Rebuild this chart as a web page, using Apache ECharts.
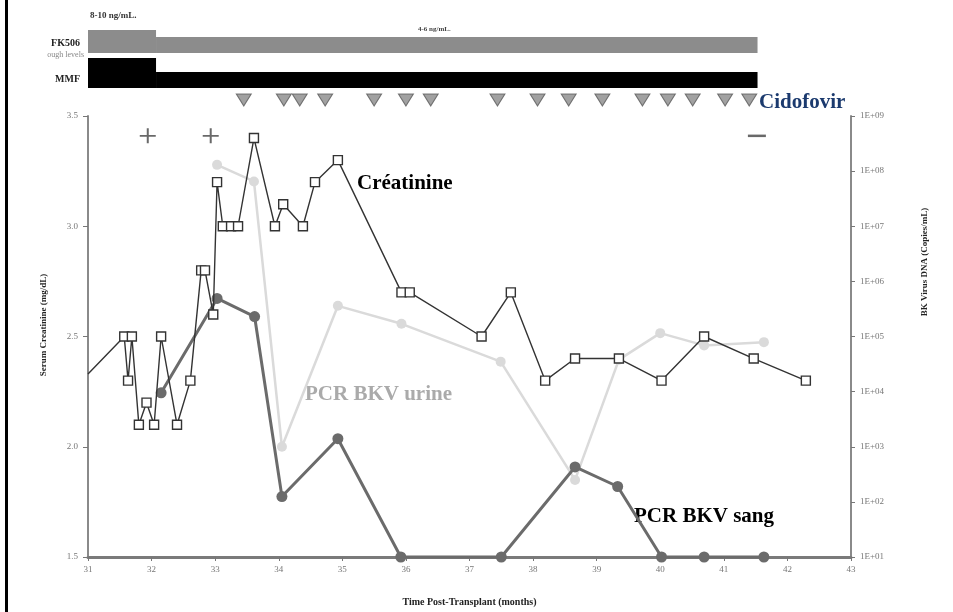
<!DOCTYPE html>
<html>
<head>
<meta charset="utf-8">
<script src="https://cdn.jsdelivr.net/npm/echarts@6/dist/echarts.min.js"></script>
<style>
html,body{margin:0;padding:0;background:#fff;}
#chart{width:953px;height:612px;}
</style>
</head>
<body>
<div id="chart"></div>
<script>
// ---- Data ----
// Serum creatinine (mg/dL) vs months post-transplant
const creatMonths = [31, 31.57, 31.63, 31.69, 31.80, 31.92, 32.04, 32.15, 32.40, 32.61, 32.78, 32.84, 32.97, 33.03, 33.12, 33.25, 33.36, 33.61, 33.94, 34.07, 34.38, 34.57, 34.93, 35.93, 36.06, 37.19, 37.65, 38.19, 38.66, 39.35, 40.02, 40.69, 41.47, 42.29];
const creatValues = [2.33, 2.5, 2.3, 2.5, 2.1, 2.2, 2.1, 2.5, 2.1, 2.3, 2.8, 2.8, 2.6, 3.2, 3.0, 3.0, 3.0, 3.4, 3.0, 3.1, 3.0, 3.2, 3.3, 2.7, 2.7, 2.5, 2.7, 2.3, 2.4, 2.4, 2.3, 2.5, 2.4, 2.3];
// BK virus DNA in urine (copies/mL)
const urineMonths = [33.03, 33.61, 34.05, 34.93, 35.93, 37.49, 38.66, 39.35, 40.00, 40.69, 41.63];
const urineCopies = [1.3e8, 6.5e7, 1000, 3.6e5, 1.7e5, 3.5e4, 250, 3.8e4, 1.15e5, 6.9e4, 7.9e4];
// BK virus DNA in blood (copies/mL)
const sangMonths = [32.15, 33.03, 33.62, 34.05, 34.93, 35.92, 37.50, 38.66, 39.33, 40.02, 40.69, 41.63];
const sangCopies = [9500, 4.9e5, 2.3e5, 125, 1400, 10, 10, 430, 190, 10, 10, 10];
// Cidofovir doses (months)
const cidofovirMonths = [33.45, 34.08, 34.33, 34.73, 35.50, 36.00, 36.39, 37.44, 38.07, 38.56, 39.09, 39.72, 40.12, 40.51, 41.02, 41.40];
// Biopsy results: + positive, - negative (months)
const plusMonths = [31.94, 32.93];
const minusMonths = [41.52];
const biopsyLevel = 3.41;
// Immunosuppression regimen: start, dose reduction, end (months)
const regimenMonths = [31, 32.07, 41.53];
const fk506Trough = ['8-10 ng/mL.', '4-6 ng/mL.'];
// Axis tick labels
const xTicks = [31, 32, 33, 34, 35, 36, 37, 38, 39, 40, 41, 42, 43];
const leftTicks = [1.5, 2.0, 2.5, 3.0, 3.5];
const rightTicks = ['1E+01', '1E+02', '1E+03', '1E+04', '1E+05', '1E+06', '1E+07', '1E+08', '1E+09'];

// ---- Build ----
const SERIF = '"Liberation Serif", "DejaVu Serif", serif';
const zip = (a, b) => a.map((v, i) => [v, b[i]]);

const creatData = creatMonths.map((m, i) => i === 0
  ? { value: [m, creatValues[i]], symbol: 'none' }
  : [m, creatValues[i]]);

// regimen bars: [start, end, highDose(1/0), row(0 = FK506, 1 = MMF)]
const regimenData = [];
for (let row = 0; row < 2; row++) {
  for (let p = 0; p < regimenMonths.length - 1; p++) {
    regimenData.push([regimenMonths[p], regimenMonths[p + 1], p === 0 ? 1 : 0, row]);
  }
}

const chart = echarts.init(document.getElementById('chart'), null, { renderer: 'canvas' });

const option = {
  backgroundColor: '#ffffff',
  animation: false,
  grid: [
    { left: 88, right: 102, top: 116, bottom: 49 },
    { left: 88, right: 102, top: 10, height: 100 }
  ],
  xAxis: [
    {
      type: 'value', gridIndex: 0, min: 31, max: 43, interval: 1,
      name: 'Time Post-Transplant (months)', nameLocation: 'middle', nameGap: 40,
      nameTextStyle: { fontFamily: SERIF, fontWeight: 'bold', fontSize: 10, color: '#222' },
      axisLine: { lineStyle: { color: '#7a7a7a', width: 3 } },
      axisTick: { show: true, length: 4, lineStyle: { color: '#777', width: 1 } },
      axisLabel: { fontFamily: SERIF, fontSize: 9, color: '#777', margin: 8,
        formatter: v => xTicks.includes(v) ? String(v) : '' },
      splitLine: { show: false }
    },
    { type: 'value', gridIndex: 1, min: 31, max: 43, show: false }
  ],
  yAxis: [
    {
      type: 'value', gridIndex: 0, position: 'left', min: 1.5, max: 3.5, interval: 0.5,
      axisLine: { show: true, lineStyle: { color: '#8a8a8a', width: 2 } },
      axisTick: { show: true, length: 5, lineStyle: { color: '#777', width: 1 } },
      axisLabel: { fontFamily: SERIF, fontSize: 9, color: '#777', margin: 10,
        formatter: v => leftTicks.includes(v) ? v.toFixed(1) : '' },
      splitLine: { show: false }
    },
    {
      type: 'log', gridIndex: 0, position: 'right', logBase: 10, min: 10, max: 1e9,
      interval: 1,
      axisLine: { show: true, lineStyle: { color: '#8a8a8a', width: 2 } },
      axisTick: { show: true, length: 4, lineStyle: { color: '#777', width: 1 } },
      axisLabel: { fontFamily: SERIF, fontSize: 9, color: '#777', margin: 9,
        formatter: v => {
          const e = Math.round(Math.log10(v));
          return rightTicks[e - 1] || '';
        } },
      splitLine: { show: false }
    },
    { type: 'value', gridIndex: 1, min: 0, max: 100, show: false }
  ],
  graphic: [
    { type: 'rect', shape: { x: 5, y: 0, width: 3, height: 612 }, style: { fill: '#000' }, z: 100 },
    { type: 'text', x: 44, y: 325, rotation: Math.PI / 2,
      style: { text: 'Serum Creatinine (mg/dL)', font: 'bold 9px ' + SERIF, fill: '#222', align: 'center', verticalAlign: 'middle' } },
    { type: 'text', x: 925, y: 262, rotation: Math.PI / 2,
      style: { text: 'BK Virus DNA (Copies/mL)', font: 'bold 9px ' + SERIF, fill: '#222', align: 'center', verticalAlign: 'middle' } },
    { type: 'text', x: 80, y: 43,
      style: { text: 'FK506', font: 'bold 10px ' + SERIF, fill: '#222', align: 'right', verticalAlign: 'middle' } },
    { type: 'text', x: 84, y: 55,
      style: { text: 'ough levels', font: '8px ' + SERIF, fill: '#888', align: 'right', verticalAlign: 'middle' } },
    { type: 'text', x: 80, y: 79,
      style: { text: 'MMF', font: 'bold 10px ' + SERIF, fill: '#222', align: 'right', verticalAlign: 'middle' } },
    { type: 'text', x: 90, y: 16,
      style: { text: fk506Trough[0], font: 'bold 9px ' + SERIF, fill: '#333', align: 'left', verticalAlign: 'middle' } },
    { type: 'text', x: 418, y: 29,
      style: { text: fk506Trough[1], font: 'bold 7px ' + SERIF, fill: '#444', align: 'left', verticalAlign: 'middle' } },
    { type: 'text', x: 759, y: 103,
      style: { text: 'Cidofovir', font: 'bold 21px ' + SERIF, fill: '#1b3a6e', align: 'left', verticalAlign: 'middle' } },
    { type: 'text', x: 357, y: 184,
      style: { text: 'Créatinine', font: 'bold 21px ' + SERIF, fill: '#000', align: 'left', verticalAlign: 'middle' } },
    { type: 'text', x: 305, y: 395,
      style: { text: 'PCR BKV urine', font: 'bold 21px ' + SERIF, fill: '#aaaaaa', align: 'left', verticalAlign: 'middle' } },
    { type: 'text', x: 634, y: 517,
      style: { text: 'PCR BKV sang', font: 'bold 21px ' + SERIF, fill: '#000', align: 'left', verticalAlign: 'middle' } }
  ],
  series: [
    {
      name: 'Regimen', type: 'custom', xAxisIndex: 1, yAxisIndex: 2,
      renderItem: (params, api) => {
        const x0 = api.value(0), x1 = api.value(1), high = api.value(2), row = api.value(3);
        const bottom = row === 0 ? 57 : 22;
        const top = row === 0 ? (high ? 80 : 73) : (high ? 52 : 38);
        const p0 = api.coord([x0, top]);
        const p1 = api.coord([x1, bottom]);
        return {
          type: 'rect',
          shape: { x: p0[0], y: p0[1], width: p1[0] - p0[0], height: p1[1] - p0[1] },
          style: { fill: row === 0 ? '#8c8c8c' : '#000000' }
        };
      },
      data: regimenData, silent: true
    },
    {
      name: 'Cidofovir', type: 'scatter', xAxisIndex: 1, yAxisIndex: 2,
      symbol: 'triangle', symbolRotate: 180, symbolSize: [15, 12],
      itemStyle: { color: '#8a8a8a', borderColor: '#5a5a5a', borderWidth: 1 },
      data: cidofovirMonths.map(m => [m, 10]), silent: true
    },
    {
      name: 'Biopsy +', type: 'scatter', xAxisIndex: 0, yAxisIndex: 0,
      symbol: 'path://M7,0h2v7h7v2h-7v7h-2v-7h-7v-2h7z', symbolSize: [16, 15],
      itemStyle: { color: '#444' }, clip: false,
      data: plusMonths.map(m => [m, biopsyLevel])
    },
    {
      name: 'Biopsy -', type: 'scatter', xAxisIndex: 0, yAxisIndex: 0,
      symbol: 'rect', symbolSize: [18, 2.5],
      itemStyle: { color: '#444' }, clip: false,
      data: minusMonths.map(m => [m, biopsyLevel])
    },
    {
      name: 'PCR BKV urine', type: 'line', xAxisIndex: 0, yAxisIndex: 1,
      symbol: 'circle', symbolSize: 10, clip: false,
      lineStyle: { color: '#dadada', width: 2.5 },
      itemStyle: { color: '#dadada' },
      data: zip(urineMonths, urineCopies)
    },
    {
      name: 'PCR BKV sang', type: 'line', xAxisIndex: 0, yAxisIndex: 1,
      symbol: 'circle', symbolSize: 11, clip: false,
      lineStyle: { color: '#6b6b6b', width: 3 },
      itemStyle: { color: '#6b6b6b' },
      data: zip(sangMonths, sangCopies)
    },
    {
      name: 'Créatinine', type: 'line', xAxisIndex: 0, yAxisIndex: 0,
      symbol: 'rect', symbolSize: 9, clip: false,
      lineStyle: { color: '#333', width: 1.4 },
      itemStyle: { color: '#fff', borderColor: '#333', borderWidth: 1.4 },
      data: creatData, z: 5
    }
  ]
};
chart.setOption(option);
</script>
</body>
</html>
